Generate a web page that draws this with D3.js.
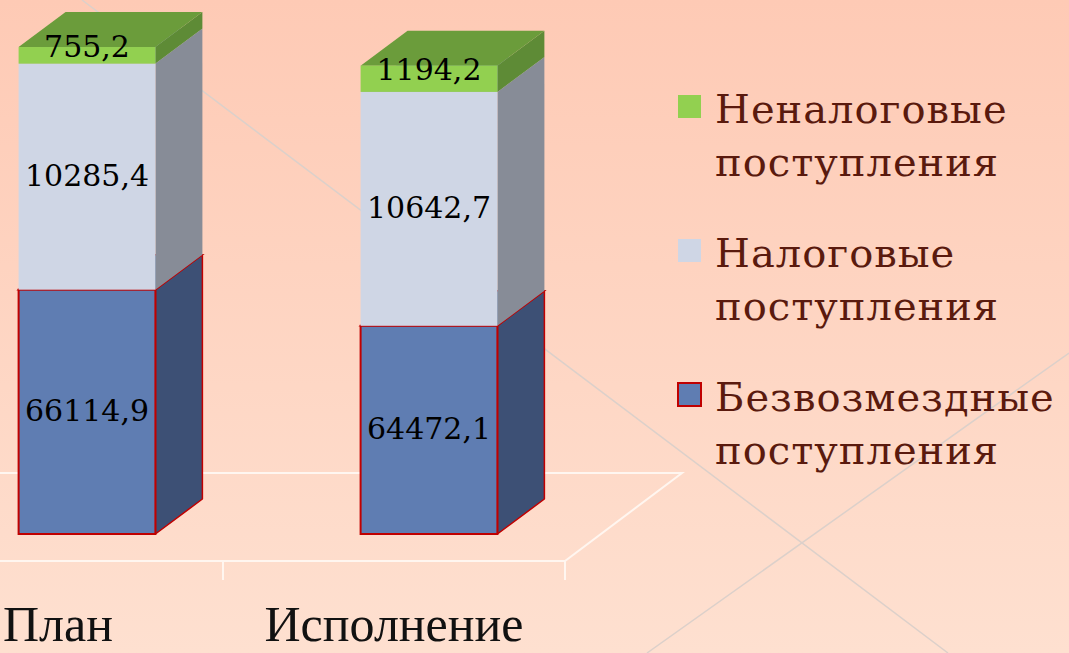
<!DOCTYPE html>
<html>
<head>
<meta charset="utf-8">
<script src="https://cdnjs.cloudflare.com/ajax/libs/d3/7.8.5/d3.min.js"></script>
<style>
  body { margin: 0; overflow: hidden; }
</style>
</head>
<body>
<script>
// chart data
var categories = ["План", "Исполнение"];
var seriesNames = ["Безвозмездные поступления", "Налоговые поступления", "Неналоговые поступления"];
var bezvozmezdnye = [66114.9, 64472.1];
var nalogovye = [10285.4, 10642.7];
var nenalogovye = [755.2, 1194.2];

var svgWidth = 1069;
var svgHeight = 653;

// front / side / top colours for each series (bottom to top)
var colors = [
  {front: "#5f7db2", side: "#3d5075", top: "#4b6494", stroke: "#c00000"},
  {front: "#cfd6e5", side: "#878c97", top: "#a9afbb", stroke: "none"},
  {front: "#92d050", side: "#5e8b36", top: "#6b9c3b", stroke: "none"}
];

// 3d offsets
var depth = {x: 47, y: 35};
var floorDepth = {x: 117, y: 88};
var barShift = {x: 35, y: 27};

var svg = d3.select("body")
  .append("svg")
  .attr("width", svgWidth)
  .attr("height", svgHeight);

// background
var grad = svg.append("defs").append("linearGradient")
  .attr("id", "bg")
  .attr("x1", 0).attr("y1", 0).attr("x2", 0).attr("y2", 1);
grad.append("stop").attr("offset", "0%").attr("stop-color", "#fecab5");
grad.append("stop").attr("offset", "100%").attr("stop-color", "#fee0d0");

svg.append("rect")
  .attr("width", svgWidth)
  .attr("height", svgHeight)
  .attr("fill", "url(#bg)");

// faint decorative lines of the slide
var deco = [[82, 0, 948, 653], [647, 653, 1069, 353]];
svg.selectAll(".deco")
  .data(deco)
  .enter()
  .append("line")
  .attr("x1", d => d[0]).attr("y1", d => d[1])
  .attr("x2", d => d[2]).attr("y2", d => d[3])
  .attr("stroke", "#dcd0ca")
  .attr("stroke-width", 1.5);

// scales (front plane of the bars)
var x = d3.scaleBand()
  .domain(categories)
  .range([-119, 565]);

var y = d3.scaleLinear()
  .domain([55000, 80000])
  .range([534, -15.5]);

var barWidth = x.bandwidth() * 0.4;
var floorY = y(y.domain()[0]) + barShift.y;

// floor of the 3d chart
var x0 = x.range()[0], x1 = x.range()[1];
svg.append("path")
  .attr("d", `M${x0},${floorY} L${x1},${floorY} L${x1 + floorDepth.x},${floorY - floorDepth.y} L${x0 + floorDepth.x},${floorY - floorDepth.y}`)
  .attr("fill", "none")
  .attr("stroke", "#fff6f0")
  .attr("stroke-width", 2);

var tickX = categories.map(c => x(c)).concat([x1]);
svg.selectAll(".tick")
  .data(tickX)
  .enter()
  .append("line")
  .attr("x1", d => d).attr("x2", d => d)
  .attr("y1", floorY).attr("y2", floorY + 19)
  .attr("stroke", "#fff6f0")
  .attr("stroke-width", 2);

// stack the series
var table = categories.map(function (c, i) {
  return {cat: c, s0: bezvozmezdnye[i], s1: nalogovye[i], s2: nenalogovye[i]};
});
var stacked = d3.stack().keys(["s0", "s1", "s2"])(table);

var fmt = d3.formatLocale({decimal: ",", thousands: "", grouping: [3], currency: ["", ""]}).format(".1f");

var bars = svg.append("g");

stacked.forEach(function (layer, si) {
  var col = colors[si];
  layer.forEach(function (d) {
    var left = x(d.data.cat) + (x.bandwidth() - barWidth) / 2 + barShift.x;
    var right = left + barWidth;
    var top = y(d[1]);
    var bottom = y(Math.max(d[0], y.domain()[0]));

    // side face
    bars.append("path")
      .attr("d", `M${right},${bottom} L${right},${top} L${right + depth.x},${top - depth.y} L${right + depth.x},${bottom - depth.y} Z`)
      .attr("fill", col.side)
      .attr("stroke", col.stroke)
      .attr("stroke-width", 1.5)
      .attr("stroke-linejoin", "round");

    // top face
    bars.append("path")
      .attr("d", `M${left},${top} L${left + depth.x},${top - depth.y} L${right + depth.x},${top - depth.y} L${right},${top} Z`)
      .attr("fill", col.top)
      .attr("stroke", col.stroke)
      .attr("stroke-width", 1.5);

    // front face
    bars.append("rect")
      .attr("x", left)
      .attr("y", top)
      .attr("width", barWidth)
      .attr("height", bottom - top)
      .attr("fill", col.front)
      .attr("stroke", col.stroke)
      .attr("stroke-width", 2);

    // value label
    bars.append("text")
      .attr("x", left + barWidth / 2)
      .attr("y", (top + bottom) / 2)
      .attr("dy", si === 2 ? "0.05em" : "0.3em")
      .attr("text-anchor", "middle")
      .style("font-family", "'DejaVu Serif', serif")
      .style("font-size", "30px")
      .style("fill", "#000")
      .text(fmt(d[1] - d[0]));
  });
});

// category labels (kept inside the left edge)
svg.selectAll(".cat")
  .data(categories)
  .enter()
  .append("text")
  .attr("y", 641)
  .attr("text-anchor", "middle")
  .style("font-family", "'Liberation Serif', serif")
  .style("font-size", "50px")
  .style("fill", "#111")
  .text(d => d)
  .attr("x", function (d) {
    var w = this.getComputedTextLength();
    return Math.max(x(d) + x.bandwidth() / 2, w / 2 + 3);
  });

// legend, top item is the last series
var legendData = seriesNames.map((n, i) => ({name: n, col: colors[i]})).reverse();

var legend = svg.selectAll(".legend")
  .data(legendData)
  .enter()
  .append("g")
  .attr("transform", (d, i) => `translate(677, ${94 + i * 144})`);

legend.append("rect")
  .attr("x", 1).attr("y", 1)
  .attr("width", 23).attr("height", 23)
  .attr("fill", d => d.col.front)
  .attr("stroke", d => d.col.stroke)
  .attr("stroke-width", 2);

legend.append("text")
  .attr("x", 38)
  .attr("y", 29)
  .style("font-family", "'DejaVu Serif', serif")
  .style("font-size", "40px")
  .style("letter-spacing", "1px")
  .style("fill", "#5a1a0e")
  .selectAll("tspan")
  .data(d => d.name.split(" "))
  .enter()
  .append("tspan")
  .attr("x", 38)
  .attr("dy", (d, i) => i === 0 ? 0 : 53)
  .text(d => d);
</script>
</body>
</html>
